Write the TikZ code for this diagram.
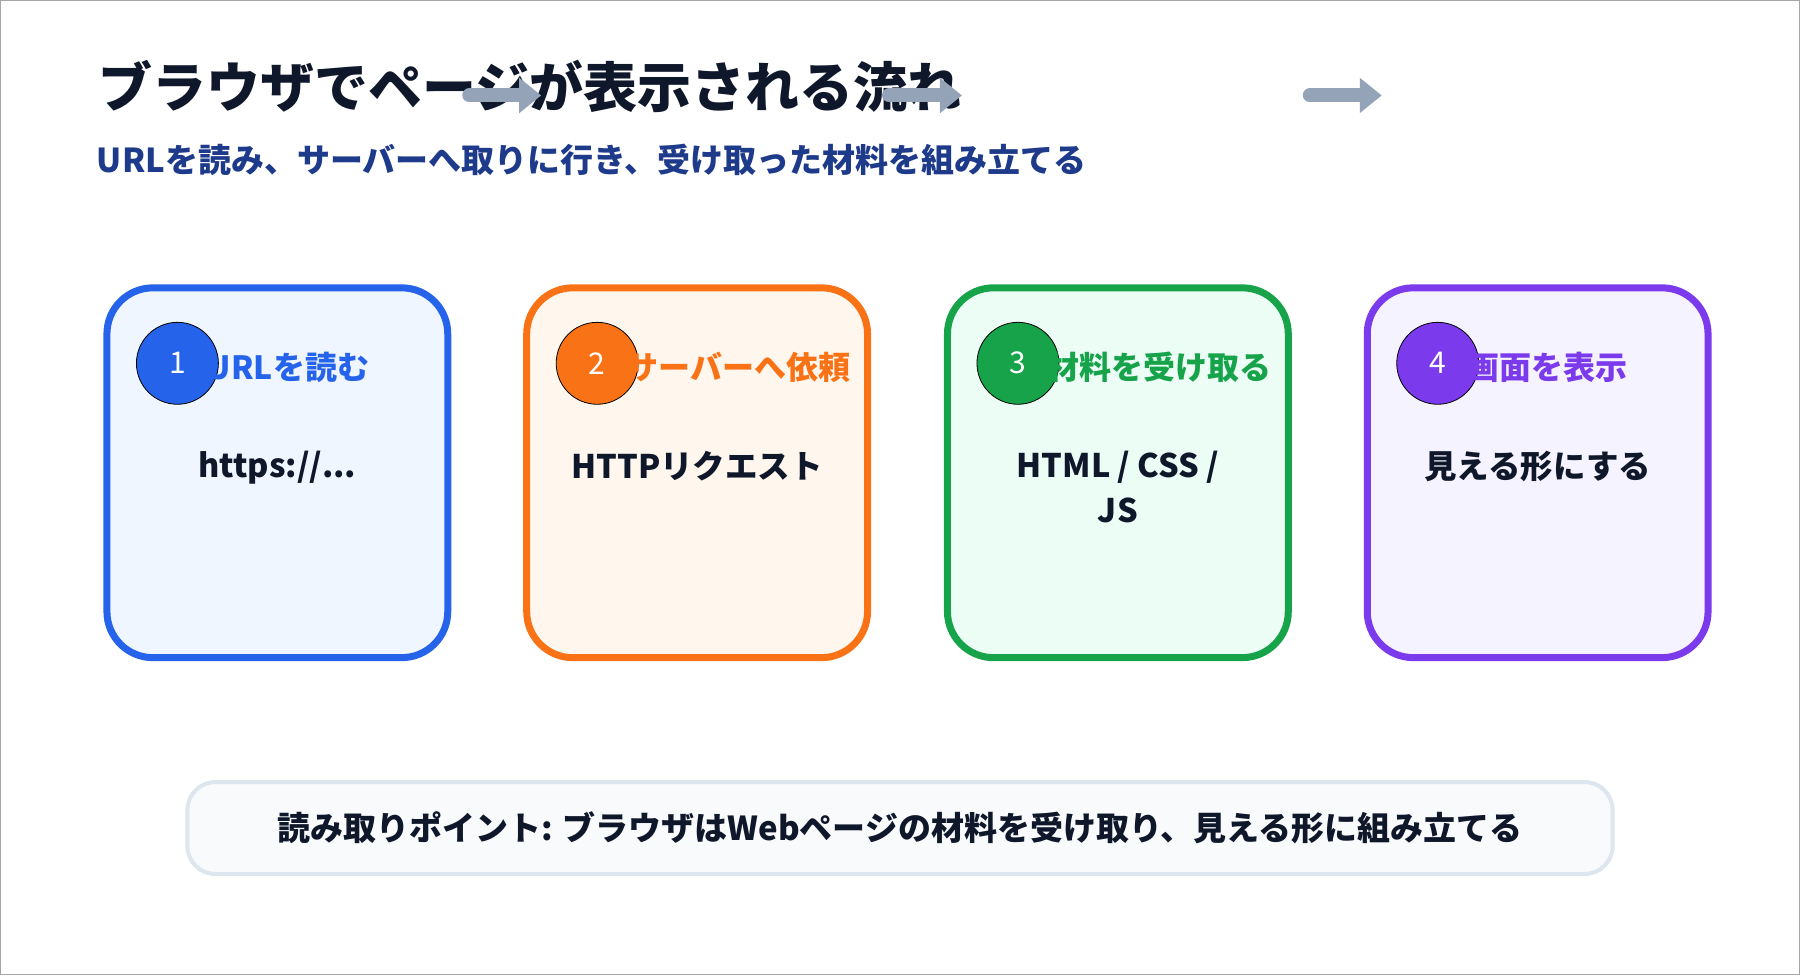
\documentclass[tikz,border=0pt]{standalone}
\usepackage{fontspec}
\setmainfont{Noto Sans CJK JP}
\usetikzlibrary{arrows.meta,positioning}
\definecolor{ink}{HTML}{0F172A}
\definecolor{subink}{HTML}{1E3A8A}
\definecolor{cblue}{HTML}{2563EB}
\definecolor{corange}{HTML}{F97316}
\definecolor{cgreen}{HTML}{16A34A}
\definecolor{cpurple}{HTML}{7C3AED}
\definecolor{fblue}{HTML}{EFF6FF}
\definecolor{forange}{HTML}{FFF7ED}
\definecolor{fgreen}{HTML}{ECFDF5}
\definecolor{fpurple}{HTML}{F5F3FF}
\definecolor{arrowgray}{HTML}{94A3B8}
\definecolor{notefill}{HTML}{F8FAFC}
\definecolor{noteline}{HTML}{DDE5EE}
\newcommand\urlbody{https://...}
\tikzset{
  step/.style={draw=#1, line width=7pt, rounded corners=46pt, minimum width=341pt,
    minimum height=370pt, anchor=north west},
  badge/.style={circle, draw=black, line width=0.8pt, fill=#1, minimum size=82pt,
    text=white, font=\fontsize{30}{30}\selectfont},
  steptitle/.style={anchor=west, text=#1, font=\fontsize{32}{32}\selectfont\bfseries},
  stepbody/.style={align=center, text=ink, font=\fontsize{32.5}{45}\selectfont\bfseries},
  flow/.style={line width=14pt, arrowgray, line cap=round, -{Triangle[length=22pt,width=34pt]}}
}
\begin{document}
\begin{tikzpicture}[x=1pt,y=-1pt]
\path[draw=gray!70, line width=1pt] (0,0) rectangle (1800,975);
\useasboundingbox (0,0) rectangle (1800,975);

\node[anchor=base west, text=ink, font=\fontsize{54}{54}\selectfont\bfseries] (title) at (95,107)
  {ブラウザでページが表示される流れ};
\node[anchor=base west, text=subink, font=\fontsize{33}{33}\selectfont\bfseries] (subtitle) at (93,172)
  {URLを読み、サーバーへ取りに行き、受け取った材料を組み立てる};

% anchors of the steps
\coordinate (p1) at (103,284);
\coordinate (p2) at (523,284);
\coordinate (p3) at (944,284);
\coordinate (p4) at (1364,284);

% connectors sit under the boxes
\draw[flow] ([xshift=366pt,yshift=189pt]p1) -- ([xshift=18pt,yshift=189pt]p2);
\draw[flow] ([xshift=366pt,yshift=189pt]p2) -- ([xshift=18pt,yshift=189pt]p3);
\draw[flow] ([xshift=366pt,yshift=189pt]p3) -- ([xshift=18pt,yshift=189pt]p4);

% steps
\node[step=cblue, fill=fblue] (b1) at (p1) {};
\node[step=corange, fill=forange] (b2) at (p2) {};
\node[step=cgreen, fill=fgreen] (b3) at (p3) {};
\node[step=cpurple, fill=fpurple] (b4) at (p4) {};

\foreach \i/\c/\t/\b in {1/cblue/URLを読む/\urlbody,
    2/corange/サーバーへ依頼/HTTPリクエスト,
    3/cgreen/材料を受け取る/{HTML / CSS /\\JS},
    4/cpurple/画面を表示/見える形にする}{
  \node[badge=\c] (n\i) at ([xshift=74pt,yshift=-79pt]b\i.north west) {\i};
  \node[steptitle=\c] (t\i) at ([xshift=26pt,yshift=-4pt]n\i.center) {\t};
  \node[stepbody, anchor=north] (d\i) at ([yshift=-163pt]b\i.north) {\b};
}

\node[draw=noteline, fill=notefill, line width=4pt, rounded corners=28pt,
  minimum width=1426pt, minimum height=92pt, text=ink,
  font=\fontsize{33}{33}\selectfont\bfseries] (note) at (900,828)
  {読み取りポイント: ブラウザはWebページの材料を受け取り、見える形に組み立てる};
\end{tikzpicture}
\end{document}
